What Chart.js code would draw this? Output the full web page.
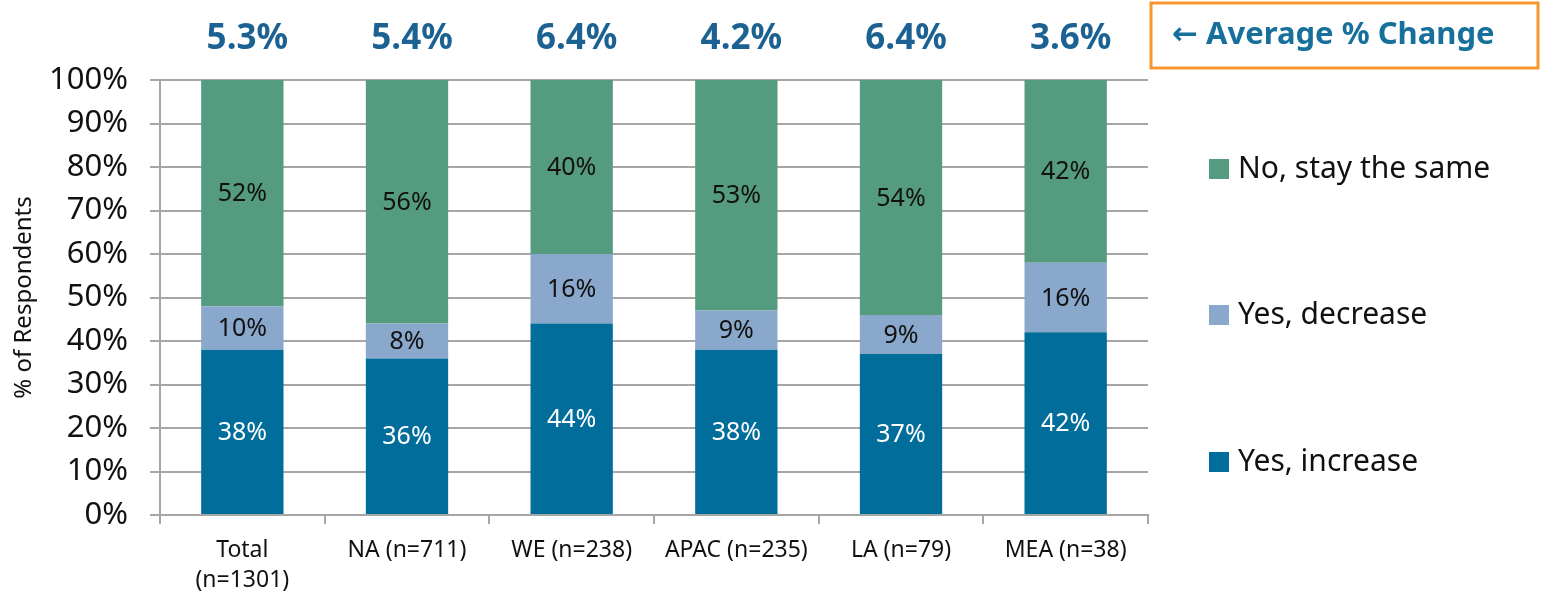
<!DOCTYPE html>
<html>
<head>
<meta charset="utf-8">
<script src="https://cdn.jsdelivr.net/npm/chart.js@4.4.0/dist/chart.umd.min.js"></script>
<style>
  html, body { margin: 0; padding: 0; background: #fff; }
  #wrap { width: 1542px; height: 599px; position: relative; }
</style>
</head>
<body>
<div id="wrap"><canvas id="plot" width="1542" height="599"></canvas></div>
<script>
let categorias = [['Total', '(n=1301)'], 'NA (n=711)', 'WE (n=238)', 'APAC (n=235)', 'LA (n=79)', 'MEA (n=38)'];
let aumentoArr = [38, 36, 44, 38, 37, 42];
let disminucionArr = [10, 8, 16, 9, 9, 16];
let igualArr = [52, 56, 40, 53, 54, 42];
let cambioPromArr = ['5.3%', '5.4%', '6.4%', '4.2%', '6.4%', '3.6%'];
let yTicks = [0, 10, 20, 30, 40, 50, 60, 70, 80, 90, 100];

let fuente = "'Noto Sans', 'Open Sans', 'DejaVu Sans', sans-serif";
let gris = '#a6a6a6';

// etiquetas dentro de cada segmento
let etiquetasPlugin = {
    id: 'etiquetas',
    afterDatasetsDraw(chart) {
        let ctx = chart.ctx;
        ctx.save();
        ctx.font = '25px ' + fuente;
        ctx.textAlign = 'center';
        ctx.textBaseline = 'middle';
        chart.data.datasets.forEach((ds, d) => {
            let meta = chart.getDatasetMeta(d);
            meta.data.forEach((bar, i) => {
                ctx.fillStyle = ds.labelColor;
                ctx.fillText(ds.data[i] + '%', bar.x, (bar.y + bar.base) / 2 + 1);
            });
        });

        // promedio % de cambio arriba de cada barra
        ctx.font = 'bold 35px ' + fuente;
        ctx.fillStyle = '#1b6292';
        let xScale = chart.scales.x;
        cambioPromArr.forEach((t, i) => {
            ctx.fillText(t, xScale.getPixelForValue(i) + 5, 39);
        });

        // caja naranja
        ctx.strokeStyle = '#f7962e';
        ctx.lineWidth = 3;
        ctx.strokeRect(1151, 3, 387, 65);
        ctx.fillStyle = '#17709c';
        ctx.textAlign = 'left';
        ctx.font = 'bold 31px ' + fuente;
        ctx.fillText('\u2190 Average % Change', 1172, 35);

        // leyenda
        let leyenda = [2, 1, 0];
        let ys = [169, 315, 462];
        ctx.font = '30px ' + fuente;
        leyenda.forEach((d, k) => {
            let ds = chart.data.datasets[d];
            ctx.fillStyle = ds.backgroundColor;
            ctx.fillRect(1209, ys[k] - 10, 20, 20);
            ctx.fillStyle = '#111';
            ctx.fillText(ds.label, 1238, ys[k]);
        });
        ctx.restore();
    }
};

let plotRef = document.getElementById('plot');
let config = {
    type: 'bar',
    data: {
        labels: categorias,
        datasets: [
            { label: 'Yes, increase', data: aumentoArr, backgroundColor: '#016d9a', labelColor: '#ffffff' },
            { label: 'Yes, decrease', data: disminucionArr, backgroundColor: '#8aa8cb', labelColor: '#111111' },
            { label: 'No, stay the same', data: igualArr, backgroundColor: '#559b7f', labelColor: '#111111' }
        ]
    },
    options: {
        responsive: false,
        animation: false,
        layout: { padding: { left: 0, right: 394, top: 80, bottom: 0 } },
        datasets: { bar: { barPercentage: 0.5, categoryPercentage: 1 } },
        plugins: { legend: { display: false }, tooltip: { enabled: false } },
        scales: {
            x: {
                stacked: true,
                grid: { offset: true, drawOnChartArea: false, tickLength: 9, color: gris, lineWidth: 2 },
                border: { color: gris, width: 2 },
                ticks: { color: '#111', font: { family: fuente, size: 23, lineHeight: 1.3 }, padding: 12, maxRotation: 0, autoSkip: false },
                afterFit: s => { s.height = 84; }
            },
            y: {
                stacked: true,
                min: 0, max: 100,
                afterBuildTicks: s => { s.ticks = yTicks.map(v => ({ value: v })); },
                grid: { color: gris, lineWidth: 2, tickLength: 10 },
                border: { color: gris, width: 2 },
                ticks: { color: '#111', font: { family: fuente, size: 31 }, padding: 22, callback: v => v + '%' },
                title: { display: true, text: '% of Respondents', color: '#111', font: { family: fuente, size: 24 }, padding: { top: 10, bottom: 0 } },
                afterFit: s => { s.width = 160; }
            }
        }
    },
    plugins: [etiquetasPlugin]
};
let chart1 = new Chart(plotRef, config);
</script>
</body>
</html>
